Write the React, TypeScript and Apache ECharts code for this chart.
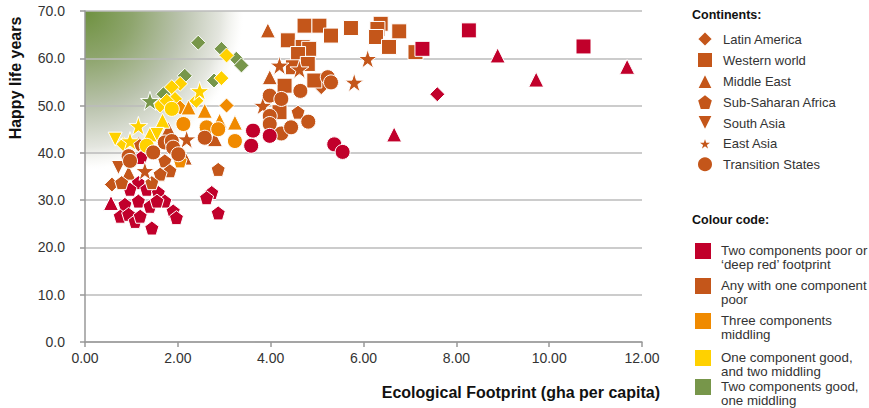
import React, { useEffect, useRef } from "react";
import * as echarts from "echarts";

// colour index: 0 deep red, 1 one component poor, 2 three middling, 3 one good, 4 two good
const colourCodes = [
  "Two components poor or\n‘deep red’ footprint",
  "Any with one component\npoor",
  "Three components\nmiddling",
  "One component good,\nand two middling",
  "Two components good,\none middling",
];
const colourValues = ["#C1002B", "#C4561A", "#F08A00", "#FFD100", "#77964A"];

const continents = [
  "Latin America",
  "Western world",
  "Middle East",
  "Sub-Saharan Africa",
  "South Asia",
  "East Asia",
  "Transition States",
];

const xTickLabels = ["0.00", "2.00", "4.00", "6.00", "8.00", "10.00", "12.00"];
const yTickLabels = ["0.0", "10.0", "20.0", "30.0", "40.0", "50.0", "60.0", "70.0"];

// [footprint, happy life years, colour index]
const latinAmerica = [
  [2.44, 63.3, 4], [2.94, 62.0, 4], [3.26, 59.9, 4], [3.37, 58.5, 4], [2.15, 56.3, 4], [1.69, 52.4, 4], [2.78, 55.3, 4],
  [3.05, 60.6, 3], [2.05, 54.6, 3], [1.87, 53.9, 3], [1.94, 51.4, 3], [1.62, 50.0, 3], [2.40, 51.0, 3], [2.94, 55.8, 3], [1.76, 51.0, 3], [0.83, 41.8, 3],
  [2.05, 49.6, 2], [3.05, 50.0, 2],
  [0.58, 33.3, 1], [1.15, 41.8, 1], [5.09, 53.9, 1],
  [7.59, 52.4, 0],
];
const westernWorld = [
  [4.73, 66.9, 1], [5.05, 66.9, 1], [5.30, 64.8, 1], [5.73, 66.4, 1], [4.37, 63.8, 1], [4.69, 62.4, 1], [4.83, 62.0, 1],
  [4.59, 60.9, 1], [4.80, 58.8, 1], [4.48, 58.1, 1], [4.30, 54.2, 1], [4.94, 55.3, 1], [4.19, 48.6, 1], [6.37, 67.3, 1],
  [6.30, 66.2, 1], [6.27, 64.5, 1], [6.77, 65.7, 1], [6.55, 62.4, 1], [7.12, 61.3, 1],
  [7.27, 62.0, 0], [8.27, 65.9, 0], [10.74, 62.5, 0],
];
const middleEast = [
  [3.94, 65.9, 1], [3.98, 56.0, 1], [1.80, 45.0, 1], [0.94, 35.8, 1], [2.15, 39.0, 1], [2.80, 42.9, 1],
  [2.23, 49.6, 2], [2.58, 48.9, 2], [2.90, 46.8, 2], [3.23, 46.4, 2],
  [1.67, 46.8, 3], [1.40, 43.9, 3],
  [0.56, 29.4, 0], [6.66, 43.9, 0], [8.89, 60.6, 0], [9.72, 55.5, 0], [11.68, 58.2, 0],
];
const subSaharanAfrica = [
  [1.21, 39.0, 0], [1.15, 33.7, 0], [0.97, 32.3, 0], [1.33, 32.3, 0], [1.58, 31.6, 0], [1.72, 29.8, 0], [1.15, 29.8, 0],
  [0.86, 29.1, 0], [1.40, 28.7, 0], [1.55, 29.8, 0], [0.76, 26.6, 0], [0.94, 27.0, 0], [1.08, 25.5, 0], [1.19, 26.6, 0],
  [1.44, 24.1, 0], [1.90, 27.7, 0], [1.97, 26.3, 0], [2.73, 31.6, 0], [2.62, 30.5, 0], [2.87, 27.3, 0],
  [1.72, 38.3, 1], [1.83, 36.2, 1], [1.62, 35.5, 1], [1.44, 33.7, 1], [0.79, 33.7, 1], [2.87, 36.5, 1], [4.59, 48.6, 1],
  [2.05, 38.3, 2],
];
const southAsia = [
  [0.65, 42.9, 3], [1.55, 43.9, 3], [0.72, 36.9, 1],
];
const eastAsia = [
  [1.40, 51.0, 4],
  [2.47, 53.1, 3], [1.15, 45.7, 3], [0.97, 42.5, 3],
  [2.19, 42.9, 1], [1.29, 36.2, 1], [4.19, 58.5, 1], [4.62, 57.7, 1], [6.09, 59.9, 1], [5.80, 54.9, 1], [3.83, 50.0, 1],
];
const transitionStates = [
  [1.87, 49.3, 3], [1.33, 41.5, 3],
  [2.12, 46.1, 2], [2.62, 45.4, 2], [2.87, 45.0, 2], [3.23, 42.5, 2],
  [2.58, 43.2, 1], [1.72, 42.2, 1], [1.87, 42.5, 1], [1.90, 41.1, 1], [2.01, 39.7, 1], [0.94, 39.3, 1], [0.97, 38.3, 1],
  [1.47, 40.1, 1], [5.23, 56.0, 1], [5.30, 54.9, 1], [3.98, 52.1, 1], [4.23, 51.4, 1], [4.64, 53.1, 1], [3.98, 47.8, 1],
  [3.98, 46.1, 1], [4.23, 44.1, 1], [4.44, 45.4, 1], [4.81, 46.6, 1],
  [3.62, 44.7, 0], [3.58, 41.5, 0], [3.98, 43.6, 0], [5.37, 41.8, 0], [5.55, 40.2, 0],
];

const seriesData = [latinAmerica, westernWorld, middleEast, subSaharanAfrica, southAsia, eastAsia, transitionStates];

const PENTAGON = "path://M5,0 L10,3.8 L8.1,10 L1.9,10 L0,3.8 Z";
const INV_TRIANGLE = "path://M0,0 L10,0 L5,10 Z";
const STAR =
  "path://M5,0 L6.18,3.62 L10,3.62 L6.91,5.86 L8.09,9.51 L5,7.24 L1.91,9.51 L3.09,5.86 L0,3.62 L3.82,3.62 Z";
const symbols = ["diamond", "rect", "triangle", PENTAGON, INV_TRIANGLE, STAR, "circle"];
const symbolSizes = [15, 15, 15, 14, 14, 19, 15];

const FONT = "'Liberation Sans', Arial, sans-serif";
const LEGEND_BROWN = "#C4561A";

export default function App() {
  const ref = useRef<HTMLDivElement>(null);

  useEffect(() => {
    document.body.style.margin = "0";
    const chart = echarts.init(ref.current!, null, { renderer: "svg" });

    const gridLeft = 85;
    const gridTop = 11;
    const codeCenters = [251, 286, 321, 358, 387];

    const graphic: any[] = [
      {
        type: "rect",
        z: -10,
        silent: true,
        shape: { x: gridLeft, y: gridTop, width: 165, height: 170 },
        style: {
          fill: {
            type: "radial",
            x: gridLeft,
            y: gridTop,
            r: 160,
            global: true,
            colorStops: [
              { offset: 0, color: "#6e913f" },
              { offset: 0.3, color: "#8ea56d" },
              { offset: 0.6, color: "#bac3ad" },
              { offset: 0.85, color: "#e4e6df" },
              { offset: 0.96, color: "rgba(250,250,248,0.7)" },
              { offset: 1, color: "rgba(255,255,255,0)" },
            ],
          },
        },
      },
      {
        type: "text",
        x: 15,
        y: 78,
        rotation: Math.PI / 2,
        style: {
          text: "Happy life years",
          font: `bold 16px ${FONT}`,
          fill: "#111",
          textAlign: "center",
          textVerticalAlign: "middle",
        },
      },
      {
        type: "text",
        x: 660,
        y: 392,
        style: {
          text: "Ecological Footprint (gha per capita)",
          font: `bold 16px ${FONT}`,
          fill: "#111",
          textAlign: "right",
          textVerticalAlign: "middle",
        },
      },
      {
        type: "text",
        x: 692,
        y: 15,
        style: {
          text: "Continents:",
          font: `bold 12.5px ${FONT}`,
          fill: "#111",
          textAlign: "left",
          textVerticalAlign: "middle",
        },
      },
      {
        type: "text",
        x: 692,
        y: 220,
        style: {
          text: "Colour code:",
          font: `bold 12.5px ${FONT}`,
          fill: "#111",
          textAlign: "left",
          textVerticalAlign: "middle",
        },
      },
    ];
    colourCodes.forEach((label, i) => {
      graphic.push({
        type: "rect",
        shape: { x: 695, y: codeCenters[i] - 8, width: 16, height: 16 },
        style: { fill: colourValues[i] },
      });
      graphic.push({
        type: "text",
        x: 721,
        y: codeCenters[i] - 7,
        style: {
          text: label,
          font: `13.3px ${FONT}`,
          lineHeight: 13.5,
          fill: "#333",
          textAlign: "left",
          textVerticalAlign: "top",
        },
      });
    });

    chart.setOption({
      animation: false,
      textStyle: { fontFamily: FONT },
      grid: { left: gridLeft, right: 227, top: gridTop, bottom: 66, containLabel: false },
      xAxis: {
        type: "value",
        min: 0,
        max: 12,
        interval: 2,
        axisLine: { show: true, lineStyle: { color: "#999", width: 1.5 } },
        axisTick: { show: true, length: 5, lineStyle: { color: "#999", width: 1.5 } },
        splitLine: { show: false },
        axisLabel: {
          margin: 9,
          fontSize: 14,
          color: "#333",
          formatter: (v: number) => xTickLabels[Math.round(v / 2)] ?? v.toFixed(2),
        },
      },
      yAxis: {
        type: "value",
        min: 0,
        max: 70,
        interval: 10,
        axisLine: { show: true, lineStyle: { color: "#999", width: 1.5 } },
        axisTick: { show: true, length: 5, lineStyle: { color: "#999", width: 1.5 } },
        splitLine: { show: true, lineStyle: { color: "#bbb", width: 1.5 } },
        axisLabel: {
          margin: 20,
          fontSize: 14,
          color: "#333",
          formatter: (v: number) => yTickLabels[Math.round(v / 10)] ?? v.toFixed(1),
        },
      },
      legend: {
        data: continents,
        orient: "vertical",
        left: 691,
        top: 25,
        itemWidth: 16,
        itemHeight: 16,
        itemGap: 3,
        selectedMode: false,
        textStyle: { fontSize: 13, lineHeight: 16, color: "#333", padding: [0, 0, 0, 5] },
      },
      graphic,
      series: continents.map((name, si) => ({
        name,
        type: "scatter",
        symbol: symbols[si],
        symbolSize: symbolSizes[si],
        itemStyle: { color: LEGEND_BROWN, borderColor: "#fff", borderWidth: 1, opacity: 1 },
        data: seriesData[si].map((d) => ({
          value: [d[0], d[1]],
          itemStyle: { color: colourValues[d[2]] },
        })),
      })),
    });

    return () => chart.dispose();
  }, []);

  return <div ref={ref} style={{ width: 869, height: 408 }} />;
}
